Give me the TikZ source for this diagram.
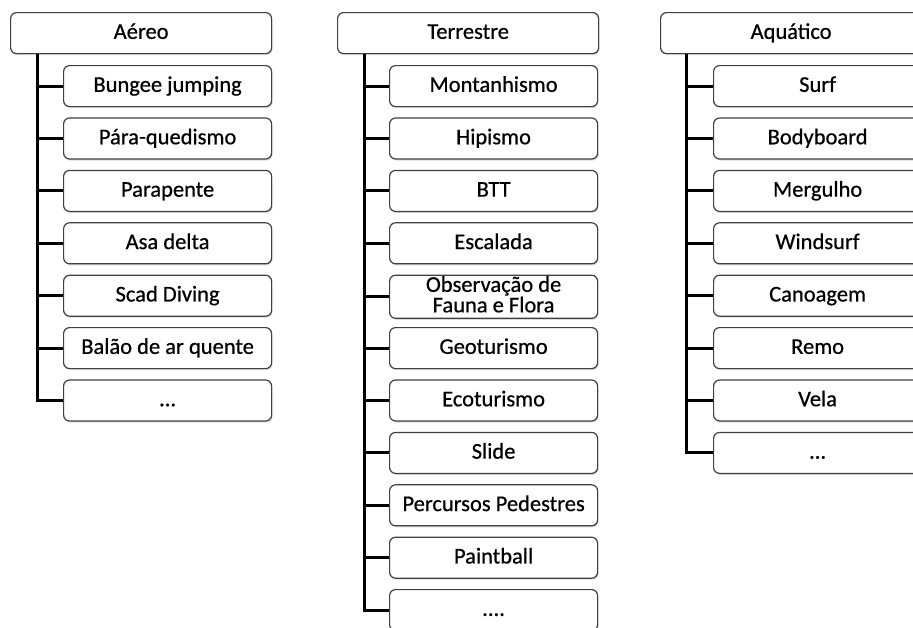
\documentclass[tikz,border=0pt]{standalone}
\usepackage{fontspec}
\setmainfont[FakeBold=0.6]{Carlito}
\usetikzlibrary{shadows}
\newcommand\maisA{...}
\newcommand\maisB{....}
\newcommand\alto{\rule[-5pt]{0pt}{21.5pt}}
\tikzset{
  head/.style={draw=black!75, line width=1.2pt, rounded corners=6pt, fill=white,
    drop shadow={shadow xshift=1pt, shadow yshift=-1.5pt, opacity=0.3},
    minimum width=261pt, minimum height=41pt, anchor=north west, inner sep=1pt,
    text=black, font=\fontsize{22.5}{20.5}\selectfont,
    execute at begin node=\alto, execute at end node=\alto},
  leaf/.style={head, minimum width=208pt, align=center},
  trunk/.style={line width=3pt, black}
}
\begin{document}
\begin{tikzpicture}[x=1pt,y=-1pt]
\useasboundingbox (0,0) rectangle (913,627);
% Aereo
\node[head] (ha) at (10,12) {Aéreo};
\coordinate (ta) at ([xshift=27pt]ha.south west);
\foreach \t [count=\i] in {Bungee jumping, Pára-quedismo, Parapente, Asa delta,
    Scad Diving, Balão de ar quente, \maisA}{
  \node[leaf] (a\i) at (63,{65+(\i-1)*52.4}) {\t};
  \draw[trunk] (ta) |- (a\i.west);
}
% Terrestre
\node[head] (ht) at (337,12) {Terrestre};
\coordinate (tt) at ([xshift=27pt]ht.south west);
\foreach \t [count=\i] in {Montanhismo, Hipismo, BTT, Escalada,
    {Observação de\\Fauna e Flora}, Geoturismo, Ecoturismo, Slide,
    Percursos Pedestres, Paintball, \maisB}{
  \node[leaf] (t\i) at (389,{65+(\i-1)*52.4}) {\t};
  \draw[trunk] (tt) |- (t\i.west);
}
% Aquatico
\node[head] (hq) at (660,12) {Aquático};
\coordinate (tq) at ([xshift=26pt]hq.south west);
\foreach \t [count=\i] in {Surf, Bodyboard, Mergulho, Windsurf,
    Canoagem, Remo, Vela, \maisA}{
  \node[leaf] (q\i) at (713,{65+(\i-1)*52.4}) {\t};
  \draw[trunk] (tq) |- (q\i.west);
}
\end{tikzpicture}
\end{document}
